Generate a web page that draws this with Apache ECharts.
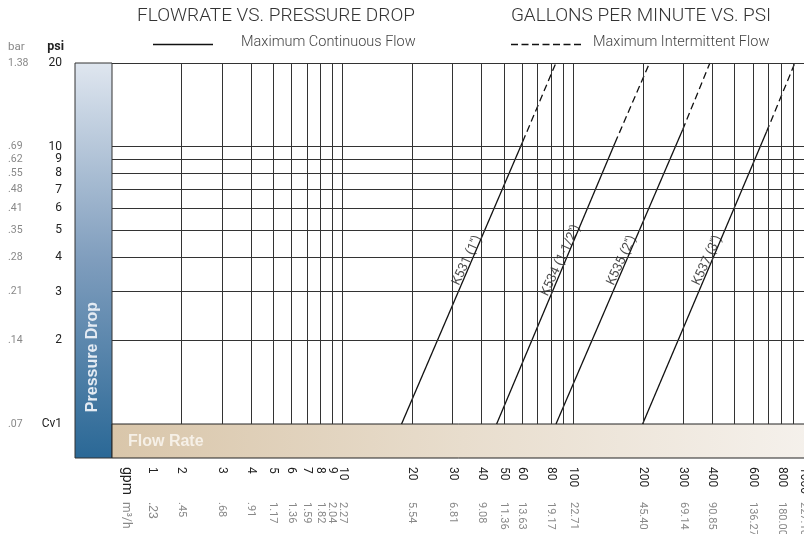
<!DOCTYPE html>
<html><head><meta charset="utf-8">
<script src="https://cdn.jsdelivr.net/npm/echarts@6/dist/echarts.min.js"></script>
<style>html,body{margin:0;padding:0;background:#fff}#c{width:804px;height:534px}</style>
</head><body><div id="c"></div>
<script>
// ---- data ----
const valveNames = ["K531 (1'')", "K534 (1-1/2'')", "K535 (2'')", "K537 (3'')"];
const gpmAtMinPsi = [18.0, 46.5, 84.1, 199.7];      // flow at 1 psi (Cv1)
const gpmAtChange = [60.3, 151.5, 297.8, 688];      // end of continuous (solid) flow
const psiAtChange = [10.4, 10.3, 11.5, 11.3];
const gpmAtMaxPsi = [84, 214, 391, 913];            // intermittent flow at 20 psi
const psiMin = 1, psiMax = 20;
const gpmMin = 1, gpmMax = 1000;
const gridGpm = [2,3,4,5,6,7,8,9,10,20,30,40,50,60,70,80,90,100,200,300,400,500,600,700,800,900];
const gridPsi = [2,3,4,5,6,7,8,9,10,20];
const gpmTicks = [1,2,3,4,5,6,7,8,9,10,20,30,40,50,60,80,100,200,300,400,600,800,1000];
const m3hTickText = ['.23','.45','.68','.91','1.17','1.36','1.59','1.82','2.04','2.27','5.54','6.81','9.08','11.36','13.63','19.17','22.71','45.40','69.14','90.85','136.27','180.00','227.10'];
const psiTicks = [1,2,3,4,5,6,7,8,9,10,20];
const psiTickText = ['Cv1','2','3','4','5','6','7','8','9','10','20'];
const barTickText = ['.07','.14','.21','.28','.35','.41','.48','.55','.62','.69','1.38'];
const labelPsi = 4.1;

const CONT = 'Maximum Continuous Flow';
const INTER = 'Maximum Intermittent Flow';
const LIGHT = 'Roboto, "Liberation Sans", sans-serif';
const NARROW = '"Liberation Sans Narrow", "Liberation Sans", sans-serif';
const DASH = [7,4];

function lookup(ticks, texts){
  return function(v){
    for (let i=0;i<ticks.length;i++) if (Math.abs(Math.log10(ticks[i])-v)<1e-6) return texts[i];
    return '';
  };
}

const series = [];
valveNames.forEach((name,i)=>{
  series.push({
    name: CONT, type:'line', xAxisIndex:0, yAxisIndex:0, symbol:'none', silent:true, color:'#111',
    lineStyle:{color:'#111', width:1.3, type:'solid'},
    data:[[gpmAtMinPsi[i], psiMin],[gpmAtChange[i], psiAtChange[i]]],
    markLine: i===0 ? {
      silent:true, symbol:['none','none'], label:{show:false}, animation:false,
      lineStyle:{color:'#333', width:1, type:'solid'},
      emphasis:{disabled:true},
      data: gridGpm.map(v=>({xAxis:v})).concat(gridPsi.map(v=>({yAxis:v})))
    } : undefined
  });
  series.push({
    name: INTER, type:'line', xAxisIndex:0, yAxisIndex:0, symbol:'none', silent:true, color:'#111',
    lineStyle:{color:'#111', width:1.3, type:DASH},
    data:[[gpmAtChange[i], psiAtChange[i]],[gpmAtMaxPsi[i], psiMax]]
  });
  const t = Math.log(labelPsi/psiMin)/Math.log(psiAtChange[i]/psiMin);
  const g = gpmAtMinPsi[i]*Math.pow(gpmAtChange[i]/gpmAtMinPsi[i], t);
  series.push({
    name: name, type:'scatter', xAxisIndex:0, yAxisIndex:0, symbolSize:0, silent:true,
    data:[[g, labelPsi]],
    label:{show:true, position:'inside', formatter:name, rotate:65, offset:[-9,-4],
      fontSize:13, color:'#222', fontFamily:LIGHT}
  });
});

const chart = echarts.init(document.getElementById('c'), null, {renderer:'canvas'});
const hiddenAxis = {axisLine:{show:false}, axisTick:{show:false}, splitLine:{show:false}, minorSplitLine:{show:false}};
chart.setOption({
  animation:false,
  backgroundColor:'#fff',
  grid:{left:112, right:0, top:63, bottom:110, containLabel:false, outerBoundsMode:'none'},
  xAxis:[
    Object.assign({type:'log', logBase:10, min:gpmMin, max:gpmMax, axisLabel:{show:false}}, hiddenAxis),
    Object.assign({type:'value', min:Math.log10(gpmMin), max:Math.log10(gpmMax), position:'bottom',
      axisLabel:{customValues:gpmTicks.slice(1).map(Math.log10), formatter:lookup(gpmTicks, gpmTicks.map(String)),
        rotate:-90, margin:43, fontSize:12, color:'#222', fontFamily:LIGHT}}, hiddenAxis),
    Object.assign({type:'value', min:Math.log10(gpmMin), max:Math.log10(gpmMax), position:'bottom',
      axisLabel:{customValues:gpmTicks.slice(1).map(Math.log10), formatter:lookup(gpmTicks, m3hTickText),
        rotate:-90, margin:78, fontSize:11, color:'#888', fontFamily:LIGHT}}, hiddenAxis)
  ],
  yAxis:[
    Object.assign({type:'log', logBase:10, min:psiMin, max:psiMax, axisLabel:{show:false}}, hiddenAxis),
    Object.assign({type:'value', min:Math.log10(psiMin), max:Math.log10(psiMax), position:'left',
      axisLabel:{customValues:psiTicks.map(Math.log10), formatter:lookup(psiTicks, psiTickText),
        margin:50, fontSize:12, color:'#222', fontFamily:LIGHT}}, hiddenAxis),
    Object.assign({type:'value', min:Math.log10(psiMin), max:Math.log10(psiMax), position:'left',
      axisLabel:{customValues:psiTicks.map(Math.log10), formatter:lookup(psiTicks, barTickText), align:'left',
        margin:104, fontSize:10.5, color:'#888', fontFamily:LIGHT}}, hiddenAxis)
  ],
  graphic:[
    {type:'text', style:{text:'FLOWRATE VS. PRESSURE DROP', x:276, y:16, align:'center', verticalAlign:'middle', font:'300 19px '+LIGHT, fill:'#333'}},
    {type:'text', style:{text:'GALLONS PER MINUTE VS. PSI', x:641, y:16, align:'center', verticalAlign:'middle', font:'300 19px '+LIGHT, fill:'#333'}},
    {type:'line', shape:{x1:153, y1:44.5, x2:213, y2:44.5}, style:{stroke:'#111', lineWidth:1.3}},
    {type:'text', style:{text:CONT, x:241, y:42, verticalAlign:'middle', font:'300 14.5px '+LIGHT, fill:'#444'}},
    {type:'line', shape:{x1:511, y1:44.5, x2:583, y2:44.5}, style:{stroke:'#111', lineWidth:1.3, lineDash:[7,3.5]}},
    {type:'text', style:{text:INTER, x:593, y:42, verticalAlign:'middle', font:'300 14.5px '+LIGHT, fill:'#444'}},
    {type:'text', style:{text:'bar', x:8, y:47, verticalAlign:'middle', font:'11.5px '+LIGHT, fill:'#888'}},
    {type:'text', style:{text:'psi', x:64, y:47, align:'right', verticalAlign:'middle', font:'bold 12.5px '+LIGHT, fill:'#222'}},
    {type:'rect', z:-1, shape:{x:75, y:63, width:37, height:395},
      style:{fill:new echarts.graphic.LinearGradient(0,0,0,1,[{offset:0,color:'#dfe6ef'},{offset:0.5,color:'#7f9dbd'},{offset:1,color:'#2a6896'}]), stroke:'#333', lineWidth:1}},
    {type:'rect', z:-1, shape:{x:112, y:424, width:700, height:34},
      style:{fill:new echarts.graphic.LinearGradient(0,0,1,0,[{offset:0,color:'#d9c6aa'},{offset:0.5,color:'#e8ddcd'},{offset:1,color:'#f5f1ec'}]), stroke:'#222', lineWidth:1}},
    {type:'text', style:{text:'Pressure Drop', x:0, y:0, align:'center', verticalAlign:'middle', font:'bold 16px '+NARROW, fill:'#e4ebf3'}, x:93, y:357, rotation:Math.PI/2},
    {type:'text', style:{text:'Flow Rate', x:128, y:442, verticalAlign:'middle', font:'bold 16px '+NARROW, fill:'#f6f0e7'}},
    {type:'text', style:{text:'gpm', x:0, y:0, verticalAlign:'middle', font:'14px '+LIGHT, fill:'#222'}, x:126, y:467, rotation:-Math.PI/2},
    {type:'text', style:{text:'m\u00b3/h', x:0, y:0, verticalAlign:'middle', font:'12px '+LIGHT, fill:'#888'}, x:126, y:502, rotation:-Math.PI/2},
    {type:'text', id:'first1', style:{text:String(gpmTicks[0]), x:0, y:0, verticalAlign:'middle', font:'12px '+LIGHT, fill:'#222'}, x:152, y:467, rotation:-Math.PI/2},
    {type:'text', id:'first2', style:{text:m3hTickText[0], x:0, y:0, verticalAlign:'middle', font:'11px '+LIGHT, fill:'#888'}, x:152, y:502, rotation:-Math.PI/2}
  ],
  series: series
});
const x1 = chart.convertToPixel({xAxisIndex:0}, gpmTicks[0]) + 40;
chart.setOption({graphic:[{id:'first1', x:x1},{id:'first2', x:x1}]});
</script></body></html>
